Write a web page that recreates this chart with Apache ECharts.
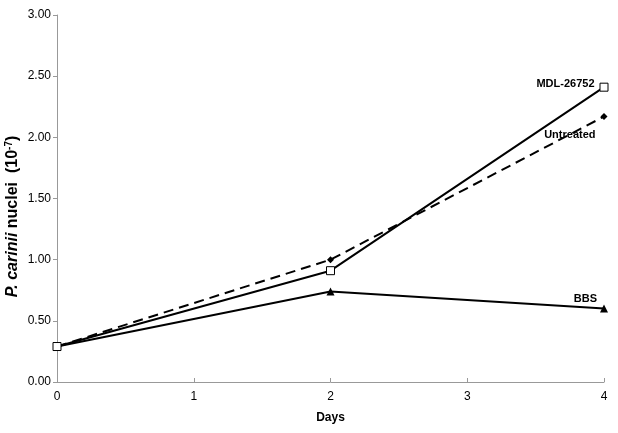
<!DOCTYPE html>
<html>
<head>
<meta charset="utf-8">
<script src="https://cdn.jsdelivr.net/npm/echarts@6/dist/echarts.min.js"></script>
<style>
  html, body { margin: 0; padding: 0; background: #fff; }
  #chart { width: 618px; height: 433px; }
</style>
</head>
<body>
<div id="chart"></div>
<script>
// data
const days = [0, 2, 4]
const mdl = [0.29, 0.91, 2.41]
const untreated = [0.29, 1.0, 2.17]
const bbs = [0.29, 0.74, 0.6]
const seriesNames = ['MDL-26752', 'Untreated', 'BBS']

const font = 'Liberation Sans, Arial, sans-serif'

// label only the last point of each line
const withEndLabel = (vals, offset) =>
  vals.map((v, i) => {
    const item = { value: [days[i], v] }
    if (i === vals.length - 1) {
      item.label = { show: true, position: 'left', offset: offset }
    }
    return item
  })

const labelStyle = (name) => ({
  show: false,
  formatter: name,
  color: '#000',
  fontFamily: font,
  fontWeight: 'bold',
  fontSize: 11,
})

const chart = echarts.init(document.getElementById('chart'), null, { renderer: 'canvas' })

chart.setOption({
  animation: false,
  grid: { left: 57, right: 14, top: 15, bottom: 51, containLabel: false, outerBoundsMode: 'none' },
  xAxis: {
    type: 'value',
    min: 0,
    max: 4,
    interval: 1,
    name: 'Days',
    nameLocation: 'middle',
    nameGap: 30,
    nameTextStyle: { fontFamily: font, fontWeight: 'bold', fontSize: 12, color: '#000' },
    axisLine: { lineStyle: { color: '#999', width: 1 } },
    axisTick: { show: true, inside: true, length: 4, lineStyle: { color: '#999' } },
    axisLabel: { fontFamily: font, fontSize: 12, color: '#000', margin: 9 },
    splitLine: { show: false },
  },
  yAxis: {
    type: 'value',
    min: 0,
    max: 3,
    interval: 0.5,
    name: '{i|P. carinii} nuclei  (10{s|-7})',
    nameLocation: 'middle',
    nameGap: 36,
    nameMoveOverlap: false,
    nameTextStyle: {
      fontFamily: font,
      fontWeight: 'bold',
      fontSize: 16,
      color: '#000',
      padding: [0, 36, 0, 0],
      rich: {
        i: { fontFamily: font, fontWeight: 'bold', fontStyle: 'italic', fontSize: 16, color: '#000' },
        s: { fontFamily: font, fontWeight: 'bold', fontSize: 10, color: '#000', verticalAlign: 'top', padding: [0, 0, 7, 0] },
      },
    },
    axisLine: { show: true, lineStyle: { color: '#999', width: 1 } },
    axisTick: { show: true, length: 4, lineStyle: { color: '#999' } },
    axisLabel: {
      fontFamily: font,
      fontSize: 12,
      color: '#000',
      margin: 6,
      formatter: (v) => v.toFixed(2),
    },
    splitLine: { show: false },
  },
  series: [
    {
      name: seriesNames[0],
      type: 'line',
      data: withEndLabel(mdl, [0, -3]),
      symbol: 'rect',
      symbolSize: 8,
      lineStyle: { color: '#000', width: 2 },
      itemStyle: { color: '#fff', borderColor: '#000', borderWidth: 1 },
      label: labelStyle(seriesNames[0]),
      z: 3,
    },
    {
      name: seriesNames[1],
      type: 'line',
      data: withEndLabel(untreated, [0, 18]),
      symbol: 'diamond',
      symbolSize: 7,
      lineStyle: { color: '#000', width: 2, type: [10, 6] },
      itemStyle: { color: '#000' },
      label: labelStyle(seriesNames[1]),
      z: 2,
    },
    {
      name: seriesNames[2],
      type: 'line',
      data: withEndLabel(bbs, [2, -10]),
      symbol: 'triangle',
      symbolSize: 8,
      lineStyle: { color: '#000', width: 2 },
      itemStyle: { color: '#000' },
      label: labelStyle(seriesNames[2]),
      z: 2,
    },
  ],
})
</script>
</body>
</html>
